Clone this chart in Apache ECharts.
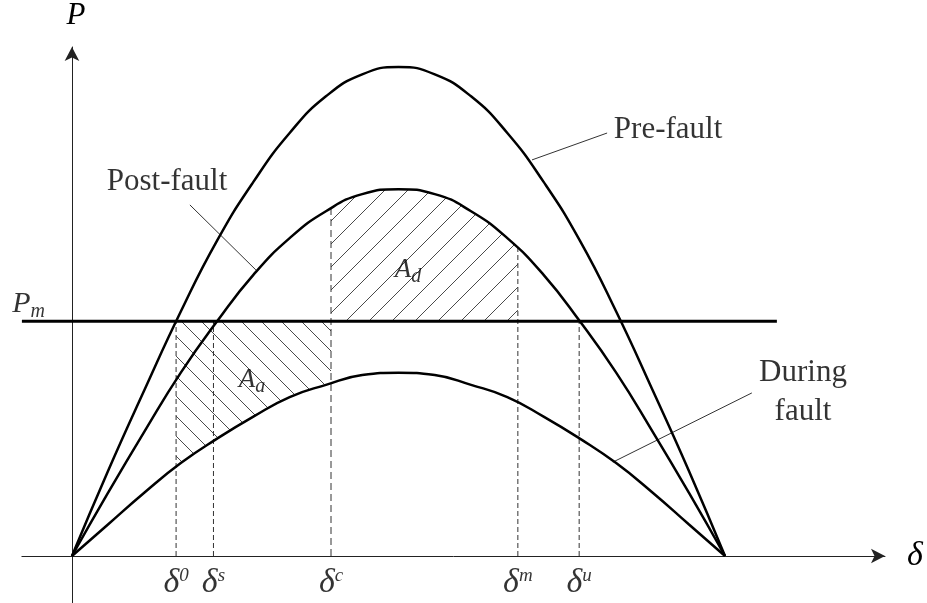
<!DOCTYPE html>
<html>
<head>
<meta charset="utf-8">
<script src="https://cdn.jsdelivr.net/npm/echarts@6/dist/echarts.min.js"></script>
<style>
  html, body { margin: 0; padding: 0; background: #fff; }
  #chart { width: 927px; height: 603px; }
</style>
</head>
<body>
<div id="chart"></div>
<script>
// Power–angle curves: rotor angle in degrees, electrical power in per unit
const deltaDeg    = [0, 10, 20, 30, 40, 50, 60, 70, 80, 90, 100, 110, 120, 130, 140, 150, 160, 170, 180];
const preFault    = [0, 0.35, 0.68, 1.00, 1.29, 1.53, 1.73, 1.88, 1.97, 2.00, 1.97, 1.88, 1.73, 1.53, 1.29, 1.00, 0.68, 0.35, 0];
const postFault   = [0, 0.26, 0.51, 0.75, 0.96, 1.15, 1.30, 1.41, 1.48, 1.50, 1.48, 1.41, 1.30, 1.15, 0.96, 0.75, 0.51, 0.26, 0];
const duringFault = [0, 0.13, 0.26, 0.38, 0.48, 0.57, 0.65, 0.70, 0.74, 0.75, 0.74, 0.70, 0.65, 0.57, 0.48, 0.38, 0.26, 0.13, 0];

// mechanical input power and the extent of its line
const pm = 0.96;
const pmSpan = [-13.8, 194.3];

// characteristic angles on the δ axis
const markKeys   = ['0', 's', 'c', 'm', 'u'];
const markAngles = [28.7, 39.0, 71.4, 122.9, 139.8];
const markTops   = [0.96, 0.96, 1.42, 1.26, 0.96];

// accelerating area A_a: between P_m and the during-fault curve
const aaAngles = [28.7, 30, 40, 50, 60, 71.4];
const aaPower  = [0.36, 0.38, 0.48, 0.57, 0.65, 0.71];
// decelerating area A_d: between the post-fault curve and P_m
const adAngles = [71.4, 80, 90, 100, 110, 120, 122.9];
const adPower  = [1.42, 1.48, 1.50, 1.48, 1.41, 1.30, 1.26];

// curve captions and their leader lines (angle, power)
const captions     = ['Pre-fault', 'Post-fault', 'During\nfault'];
const captionAt    = [[164.3, 1.742], [26.2, 1.530], [201.5, 0.669]];
const leaderStart  = [[147.5, 1.730], [32.5, 1.436], [187.4, 0.667]];
const leaderEnd    = [[126.8, 1.620], [50.7, 1.170], [149.1, 0.384]];

// area captions
const areaKeys = ['a', 'd'];
const areaAt   = [[49.6, 0.720], [92.6, 1.170]];

const SERIF = "'Liberation Serif', 'Times New Roman', serif";
const INK = '#000';

function hatch(size, rising) {
  const c = document.createElement('canvas');
  c.width = size; c.height = size;
  const g = c.getContext('2d');
  g.strokeStyle = '#4a4a4a';
  g.lineWidth = 1;
  g.beginPath();
  if (rising) {
    g.moveTo(-1, size + 1); g.lineTo(size + 1, -1);
    g.moveTo(-1, 1); g.lineTo(1, -1);
    g.moveTo(size - 1, size + 1); g.lineTo(size + 1, size - 1);
  } else {
    g.moveTo(-1, -1); g.lineTo(size + 1, size + 1);
    g.moveTo(size - 1, -1); g.lineTo(size + 1, 1);
    g.moveTo(-1, size - 1); g.lineTo(1, size + 1);
  }
  g.stroke();
  return c;
}

const zip = (xs, ys) => xs.map((x, i) => [x, ys[i]]);

function curve(values) {
  return {
    type: 'line', data: zip(deltaDeg, values), smooth: true, symbol: 'none',
    lineStyle: { color: '#000', width: 2.5 }, z: 5, silent: true
  };
}

function hatchArea(xs, ys, tile, rising) {
  return {
    type: 'line', data: zip(xs, ys), smooth: true, symbol: 'none',
    lineStyle: { width: 0, opacity: 0 },
    areaStyle: { color: { image: hatch(tile, rising), repeat: 'repeat' }, origin: pm, opacity: 1 },
    z: 2, silent: true
  };
}

const series = [
  curve(preFault),
  curve(postFault),
  curve(duringFault),
  {
    type: 'line', data: [[pmSpan[0], pm], [pmSpan[1], pm]], symbol: 'none',
    lineStyle: { color: '#000', width: 3 }, z: 5, silent: true
  },
  hatchArea(aaAngles, aaPower, 20, false),
  hatchArea(adAngles, adPower, 23, true)
];

markAngles.forEach((a, i) => {
  series.push({
    type: 'line', data: [[a, 0], [a, markTops[i]]], symbol: 'none',
    lineStyle: { color: '#333', width: 1, type: i === 2 ? [7, 4] : [5, 3] },
    z: 3, silent: true
  });
});

leaderStart.forEach((p, i) => {
  series.push({
    type: 'line', data: [p, leaderEnd[i]], symbol: 'none',
    lineStyle: { color: '#333', width: 1 }, z: 4, silent: true
  });
});

// curve captions
series.push({
  type: 'scatter', symbolSize: 0, silent: true, z: 6,
  data: captions.map((t, i) => ({ value: captionAt[i], name: t })),
  label: {
    show: true, position: 'inside', formatter: p => p.name,
    fontFamily: SERIF, fontSize: 31, lineHeight: 39, color: INK, align: 'center'
  }
});

// area captions A_a, A_d
series.push({
  type: 'scatter', symbolSize: 0, silent: true, z: 6,
  data: areaKeys.map((k, i) => ({ value: areaAt[i], name: k })),
  label: {
    show: true, position: 'inside',
    formatter: p => '{a|A}{s|' + p.name + '}',
    rich: {
      a: { fontFamily: SERIF, fontStyle: 'italic', fontSize: 27, color: INK },
      s: { fontFamily: SERIF, fontStyle: 'italic', fontSize: 20, color: INK, padding: [14, 0, 0, 0] }
    }
  }
});

// angle labels under the δ axis
series.push({
  type: 'scatter', symbolSize: 0, silent: true, z: 6,
  data: markAngles.map((a, i) => ({ value: [a, 0], name: markKeys[i] })),
  label: {
    show: true, position: 'bottom', distance: 10,
    formatter: p => '{d|δ}{s|' + p.name + '}',
    rich: {
      d: { fontFamily: SERIF, fontStyle: 'italic', fontSize: 34, color: INK },
      s: { fontFamily: SERIF, fontStyle: 'italic', fontSize: 19, color: INK, padding: [0, 0, 16, 0] }
    }
  }
});

// P_m label beside the power axis
series.push({
  type: 'scatter', symbolSize: 0, silent: true, z: 6,
  data: [{ value: [0, pm], name: 'm' }],
  label: {
    show: true, position: 'left', distance: 27, offset: [0, -17],
    formatter: p => '{p|P}{m|' + p.name + '}',
    rich: {
      p: { fontFamily: SERIF, fontStyle: 'italic', fontSize: 30, color: INK },
      m: { fontFamily: SERIF, fontStyle: 'italic', fontSize: 20, color: INK, padding: [14, 0, 0, 0] }
    }
  }
});

const chart = echarts.init(document.getElementById('chart'), null, { renderer: 'canvas' });
chart.setOption({
  animation: false,
  backgroundColor: '#fff',
  grid: { left: 21.9, right: 42, top: 47, bottom: 0, containLabel: false, outerBoundsMode: 'none' },
  xAxis: {
    type: 'value', min: -13.8, max: 224.1,
    axisLine: { onZero: true, symbol: ['none', 'arrow'], symbolSize: [11, 14], lineStyle: { color: '#222', width: 1 } },
    axisTick: { show: false },
    splitLine: { show: false },
    axisLabel: { show: false },
    name: 'δ', nameLocation: 'end', nameGap: 22,
    nameTextStyle: { fontFamily: SERIF, fontStyle: 'italic', fontSize: 34, color: INK }
  },
  yAxis: {
    type: 'value', min: -0.1922, max: 2.0818,
    axisLine: { onZero: true, symbol: ['none', 'arrow'], symbolSize: [11, 14], lineStyle: { color: '#222', width: 1 } },
    axisTick: { show: false },
    splitLine: { show: false },
    axisLabel: { show: false },
    name: 'P', nameLocation: 'end', nameGap: 16,
    nameTextStyle: { fontFamily: SERIF, fontStyle: 'italic', fontSize: 31, color: INK, padding: [0, 0, 0, 8] }
  },
  series: series
});
</script>
</body>
</html>
